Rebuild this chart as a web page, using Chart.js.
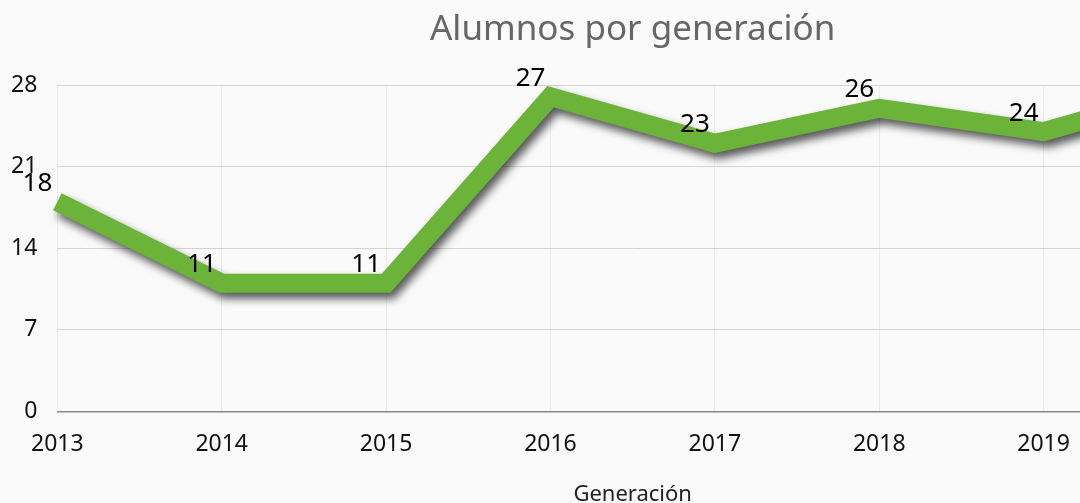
<!DOCTYPE html>
<html>
<head>
<meta charset="utf-8">
<script src="https://cdn.jsdelivr.net/npm/chart.js@4/dist/chart.umd.min.js"></script>
<style>
  body { margin: 0; overflow: hidden; background: #fafafa; }
  #wrap { width: 1265px; height: 503px; }
</style>
</head>
<body>
<div id="wrap"><canvas id="chart-line" width="1265" height="503"></canvas></div>
<script>
var years = ['2013', '2014', '2015', '2016', '2017', '2018', '2019', '2020'];
var alumnos = [18, 11, 11, 27, 23, 26, 24, 28];
var yTicks = [0, 7, 14, 21, 28];

var fontFam = '"Noto Sans", sans-serif';

// shadow under the line
var shadowPlugin = {
    id: 'lineShadow',
    beforeDatasetDraw: function (chart) {
        var ctx = chart.ctx;
        ctx.save();
        ctx.shadowColor = 'rgba(0, 0, 0, 0.65)';
        ctx.shadowBlur = 8;
        ctx.shadowOffsetX = 4;
        ctx.shadowOffsetY = 6;
    },
    afterDatasetDraw: function (chart) {
        chart.ctx.restore();
    }
};

// value labels up-left of each point
var labelPlugin = {
    id: 'valueLabels',
    afterDatasetsDraw: function (chart) {
        var ctx = chart.ctx;
        var meta = chart.getDatasetMeta(0);
        ctx.save();
        ctx.font = '26px ' + fontFam;
        ctx.fillStyle = '#000';
        ctx.textAlign = 'right';
        ctx.textBaseline = 'alphabetic';
        meta.data.forEach(function (pt, i) {
            ctx.fillText(String(alumnos[i]), pt.x - 5, pt.y - 11);
        });
        ctx.restore();
    }
};

var ctxLine = document.getElementById('chart-line').getContext('2d');
var chartLine = new Chart(ctxLine, {
    type: 'line',
    data: {
        labels: years,
        datasets: [{
            label: 'Alumnos',
            data: alumnos,
            borderColor: '#6cb33a',
            backgroundColor: '#6cb33a',
            borderWidth: 19,
            borderJoinStyle: 'miter',
            borderCapStyle: 'butt',
            pointRadius: 0,
            tension: 0,
            fill: false,
            clip: false
        }]
    },
    options: {
        responsive: false,
        animation: false,
        layout: { padding: { left: -9, right: 57, top: 0, bottom: -5 } },
        plugins: {
            legend: { display: false },
            tooltip: { enabled: false },
            title: {
                display: true,
                fullSize: false,
                text: 'Alumnos por generación',
                color: '#666',
                font: { family: fontFam, size: 35, weight: 'normal' },
                padding: { top: 9, bottom: 34 }
            }
        },
        scales: {
            x: {
                grid: { color: '#ececec', drawTicks: false },
                border: { color: '#888', width: 1.5 },
                ticks: { color: '#111', font: { family: fontFam, size: 23, lineHeight: 1 }, padding: 21, maxRotation: 0 },
                title: {
                    display: true,
                    text: 'Generación',
                    color: '#222',
                    font: { family: fontFam, size: 22 },
                    padding: { top: 5, bottom: 0 }
                }
            },
            y: {
                min: 0,
                max: 28,
                afterBuildTicks: function (axis) {
                    axis.ticks = yTicks.map(function (v) { return { value: v }; });
                },
                grid: { color: '#d4d4d4', drawTicks: false },
                border: { display: false },
                ticks: { color: '#111', font: { family: fontFam, size: 23 }, padding: 20 }
            }
        }
    },
    plugins: [shadowPlugin, labelPlugin]
});
</script>
</body>
</html>
